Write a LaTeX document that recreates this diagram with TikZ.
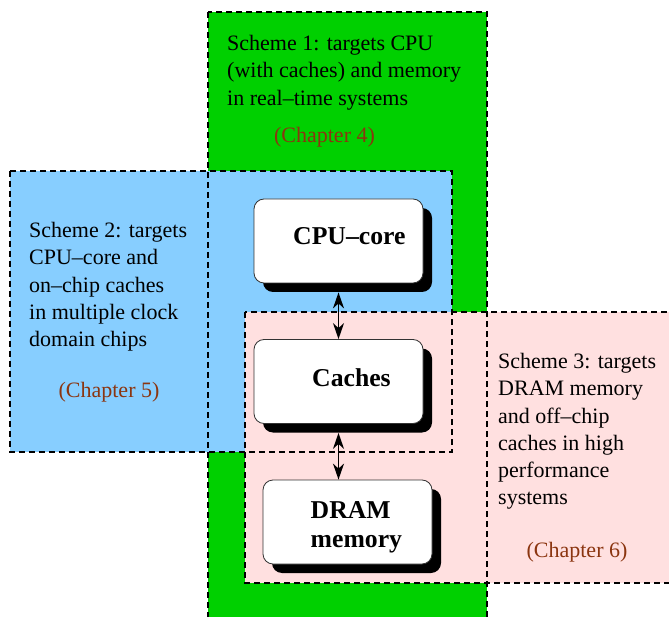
\documentclass[tikz,border=0pt]{standalone}
\usepackage{fontspec}
\setmainfont{Liberation Serif}
\usetikzlibrary{arrows.meta,shadows}

\definecolor{zonegreen}{HTML}{00D000}
\definecolor{zoneblue}{HTML}{87CEFF}
\definecolor{zonepink}{HTML}{FFE0E0}
\definecolor{chapbrown}{HTML}{8B3510}

\tikzset{
  zoneborder/.style={draw=black, line width=2pt, dash pattern=on 6pt off 4pt},
  schemetext/.style={anchor=north west, inner sep=0pt, align=left,
    font=\fontsize{22}{27.3}\selectfont},
  chaptext/.style={anchor=base, inner sep=0pt, text=chapbrown,
    font=\fontsize{22}{27}\selectfont},
  unitbox/.style={draw=black!80, line width=0.8pt, fill=white,
    rounded corners=10pt, minimum width=169pt, minimum height=84pt,
    inner sep=0pt,
    drop shadow={shadow xshift=9pt, shadow yshift=-9pt, fill=black, opacity=1}},
  unittext/.style={anchor=base west, inner sep=0pt, align=left,
    font=\fontsize{25.7}{29}\selectfont\bfseries},
  link/.style={line width=1.5pt,
    {Stealth[length=16pt,width=11pt,inset=5pt]}-{Stealth[length=16pt,width=11pt,inset=5pt]}}
}

\begin{document}
\begin{tikzpicture}[x=1pt,y=-1pt]
  \useasboundingbox (0,0) rectangle (669,617);
  \clip (0,0) rectangle (669,617);

  % coloured zones of the three schemes
  \fill[zonegreen] (208,12) rectangle (487,640);
  \fill[zoneblue]  (10,171) rectangle (452,452);
  \fill[zonepink]  (245,312) rectangle (690,583);

  % dashed outlines, drawn over all fills
  \draw[zoneborder] (208,12) rectangle (487,640);
  \draw[zoneborder] (10,171) rectangle (452,452);
  \draw[zoneborder] (245,312) rectangle (690,583);

  % scheme descriptions
  \node[schemetext] (s1) at (227,35) {Scheme 1: targets CPU\\(with caches) and memory\\in real--time systems};
  \node[chaptext] (c4) at (324.5,143) {(Chapter 4)};

  \node[schemetext] (s2) at (29,222) {Scheme 2: targets\\CPU--core and\\on--chip caches\\in multiple clock\\domain chips};
  \node[chaptext] (c5) at (109,397) {(Chapter 5)};

  \node[schemetext] (s3) at (498,353) {Scheme 3: targets\\DRAM memory\\and off--chip\\caches in high\\performance\\systems};
  \node[chaptext] (c6) at (577,557) {(Chapter 6)};

  % hardware units
  \node[unitbox] (cpu)   at (338.5,241)   {};
  \node[unitbox] (cache) at (338.5,381.5) {};
  \node[unitbox] (dram)  at (347.5,522)   {};

  % unit names (base anchor of the two-line name is its last line)
  \node[unittext] (cpuT)   at ([xshift=-45.5pt,yshift=-4pt]cpu.center)   {CPU--core};
  \node[unittext] (cacheT) at ([xshift=-26.5pt,yshift=-4.5pt]cache.center) {Caches};
  \node[unittext] (dramT)  at ([xshift=-37pt,yshift=-25pt]dram.center)    {DRAM\\memory};

  % links between the units
  \draw[link] ([yshift=-9pt]cpu.south) -- (cache.north);
  \draw[link] ([yshift=-9pt]cache.south) -- ([xshift=-9pt]dram.north);
\end{tikzpicture}
\end{document}
